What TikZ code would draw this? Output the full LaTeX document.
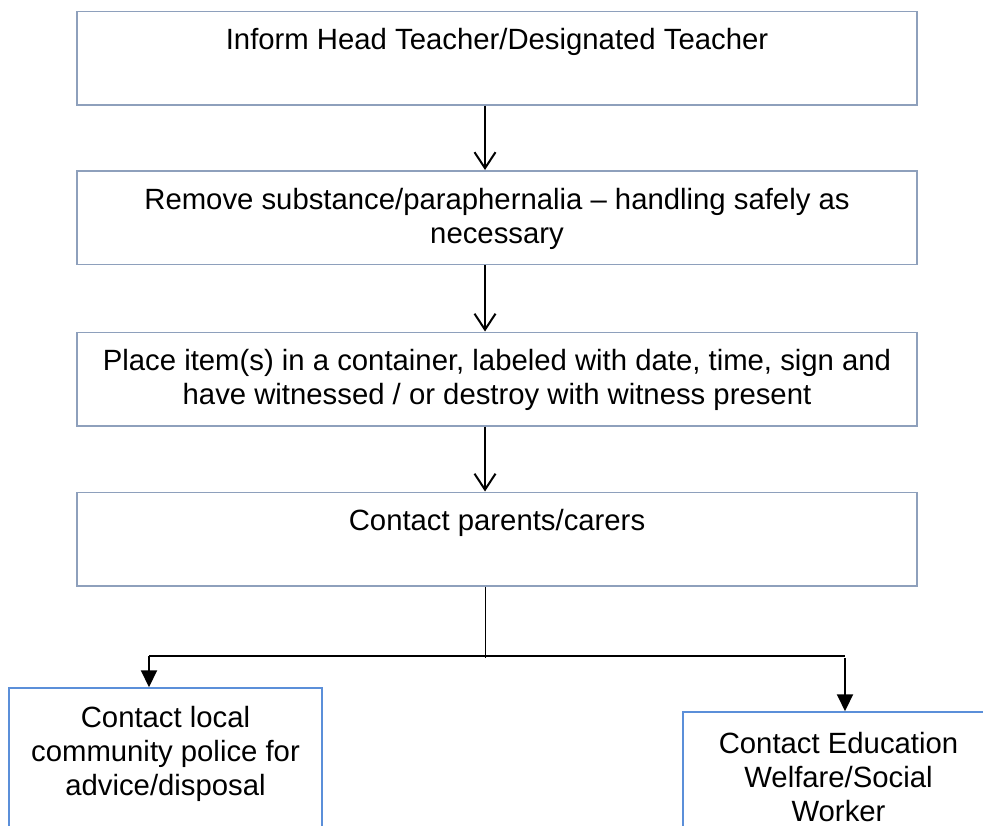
\documentclass[tikz,border=0pt]{standalone}
\usepackage{fontspec}
\setmainfont{Liberation Sans}
\usepackage{tikz}
\usetikzlibrary{arrows.meta, positioning}

\begin{document}
\begin{tikzpicture}[x=0.5pt, y=-0.5pt, line cap=butt, line join=miter,
    stepbox/.style={draw=boxGray, line width=0.75pt, minimum width=420pt, minimum height=46.75pt, inner sep=0pt},
    sidebox/.style={draw=boxBlue, line width=0.75pt, minimum height=80pt, inner sep=0pt},
    boxtext/.style={inner sep=0pt, align=center, font=\fontsize{14.65}{17}\selectfont},
    flow/.style={line width=1pt, -{Straight Barb[length=8pt, width=10.5pt]}},
    branch/.style={line width=1pt, -{Triangle[length=8.5pt, width=8pt]}}]

  % Colors
  \definecolor{boxGray}{HTML}{8EA0BC}
  \definecolor{boxBlue}{HTML}{5B8FD9}

  % page frame (the bottom boxes run off the page)
  \clip (0,0) rectangle (983,825);
  \useasboundingbox (0,0) rectangle (983,825);

  % Key points
  \coordinate (spine)    at (485,0);
  \coordinate (fork)     at (485,656);
  \coordinate (lefttee)  at (149,656);
  \coordinate (righttee) at (845,656);

  % Main steps
  \node[stepbox] (inform)    at (497,58)    {};
  \node[stepbox] (remove)    at (497,217.5) {};
  \node[stepbox] (container) at (497,379)   {};
  \node[stepbox] (parents)   at (497,539)   {};

  \node[boxtext, below=7.6pt of inform.north] (inform-t)
    {\strut Inform Head Teacher/Designated Teacher};
  \node[boxtext, below=7.6pt of remove.north] (remove-t)
    {\strut Remove substance/paraphernalia -- handling safely as\\ necessary};
  \node[boxtext, below=7.6pt of container.north] (container-t)
    {\strut Place item(s) in a container, labeled with date, time, sign and\\ have witnessed / or destroy with witness present};
  \node[boxtext, below=7.6pt of parents.north] (parents-t)
    {\strut Contact parents/carers};

  % Outcomes
  \node[sidebox, minimum width=156.5pt] (police)  at (165.5,768) {};
  \node[sidebox, minimum width=155.5pt] (welfare) at (838.5,792) {};

  \node[boxtext, below=8.1pt of police.north] (police-t)
    {\strut Contact local\\ community police for\\ advice/disposal};
  \node[boxtext, below=9.1pt of welfare.north] (welfare-t)
    {\strut Contact Education\\ Welfare/Social\\ Worker};

  % Arrows down the spine
  \draw[flow] (inform.south -| spine)    -- (remove.north -| spine);
  \draw[flow] (remove.south -| spine)    -- (container.north -| spine);
  \draw[flow] (container.south -| spine) -- (parents.north -| spine);

  % Split to the two outcomes
  \draw[line width=0.5pt] (parents.south -| fork) -- ([yshift=-1pt]fork);
  \draw[line width=0.75pt] (lefttee) -- (righttee);
  \draw[branch] (lefttee) -- (lefttee |- police.north);
  \draw[branch] ([yshift=-1pt]righttee) -- (righttee |- welfare.north);

\end{tikzpicture}
\end{document}
